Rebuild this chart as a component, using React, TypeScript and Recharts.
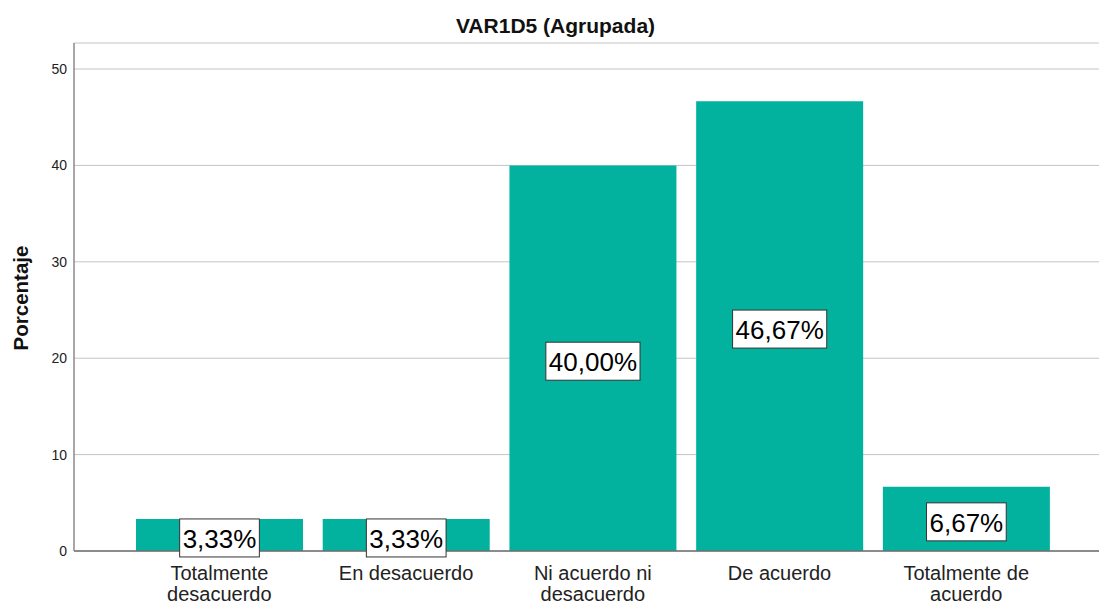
import { BarChart, Bar, XAxis, YAxis, CartesianGrid, LabelList } from "recharts";

const categories = [
  "Totalmente desacuerdo",
  "En desacuerdo",
  "Ni acuerdo ni desacuerdo",
  "De acuerdo",
  "Totalmente de acuerdo",
];
const tickLines = [
  ["Totalmente", "desacuerdo"],
  ["En desacuerdo"],
  ["Ni acuerdo ni", "desacuerdo"],
  ["De acuerdo"],
  ["Totalmente de", "acuerdo"],
];
const porcentaje = [3.33, 3.33, 40.0, 46.67, 6.67];
const yTicks = [0, 10, 20, 30, 40, 50];

const data = categories.map((name, i) => ({ name, value: porcentaje[i] }));

const FONT = "'Liberation Sans', Arial, sans-serif";
const W = 1099;
const H = 603;

const fmt = (v: number) => v.toFixed(2).replace(".", ",") + "%";

// rough Arial widths for the value label box
const textWidth = (s: string, fs: number) => {
  let w = 0;
  for (const c of s) {
    if (c === ",") w += 0.278;
    else if (c === "%") w += 0.889;
    else w += 0.556;
  }
  return w * fs;
};

const ValueLabel = (props: any) => {
  const { x, y, width, height, value } = props;
  const fs = 26;
  const txt = fmt(Number(value));
  const bw = textWidth(txt, fs) + 6;
  const bh = 38;
  const cx = x + width / 2;
  const cy = y + height / 2 + 3;
  return (
    <g>
      <rect x={cx - bw / 2} y={cy - bh / 2} width={bw} height={bh} fill="#fff" stroke="#333" strokeWidth={1} />
      <text x={cx} y={cy + 10} textAnchor="middle" fontSize={fs} fontFamily={FONT} fill="#000">
        {txt}
      </text>
    </g>
  );
};

const CategoryTick = (props: any) => {
  const { x, index } = props;
  const lines = tickLines[index] || [];
  return (
    <text textAnchor="middle" fontSize={20} fontFamily={FONT} fill="#222">
      {lines.map((l, i) => (
        <tspan key={i} x={x} y={580 + i * 20.5}>
          {l}
        </tspan>
      ))}
    </text>
  );
};

export default function App() {
  return (
    <div style={{ position: "relative", width: W, height: H, overflow: "hidden", background: "#fff" }}>
      <style>{`html,body{margin:0;padding:0;overflow:hidden}`}</style>
      <BarChart
        width={W}
        height={H}
        data={data}
        margin={{ top: 43, right: 0, bottom: 0, left: 0 }}
        barSize={167}
      >
        <CartesianGrid vertical={false} stroke="#c4c4c4" strokeWidth={1} />
        <XAxis
          dataKey="name"
          height={52}
          padding={{ left: 52, right: 39.4 }}
          tickLine={false}
          tickSize={0}
          tickMargin={0}
          axisLine={{ stroke: "#6e6e6e", strokeWidth: 1.5 }}
          tick={<CategoryTick />}
          interval={0}
        />
        <YAxis
          width={74}
          domain={[0, 52.7]}
          ticks={yTicks}
          allowDataOverflow
          tickLine={false}
          tickSize={0}
          tickMargin={7}
          axisLine={{ stroke: "#8a8a8a", strokeWidth: 1.5 }}
          tick={{ fontSize: 14, fontFamily: FONT, fill: "#222" }}
        />
        <Bar dataKey="value" fill="#02b29f" isAnimationActive={false}>
          <LabelList dataKey="value" content={<ValueLabel />} />
        </Bar>
      </BarChart>
      <svg width={W} height={H} style={{ position: "absolute", left: 0, top: 0, pointerEvents: "none" }}>
        <text x={555.5} y={33.3} textAnchor="middle" fontSize={21} fontWeight="bold" fontFamily={FONT} fill="#111">
          VAR1D5 (Agrupada)
        </text>
        <text
          x={28}
          y={298}
          transform="rotate(-90, 28, 298)"
          textAnchor="middle"
          fontSize={20.5}
          fontWeight="bold"
          fontFamily={FONT}
          fill="#111"
        >
          Porcentaje
        </text>
      </svg>
    </div>
  );
}
